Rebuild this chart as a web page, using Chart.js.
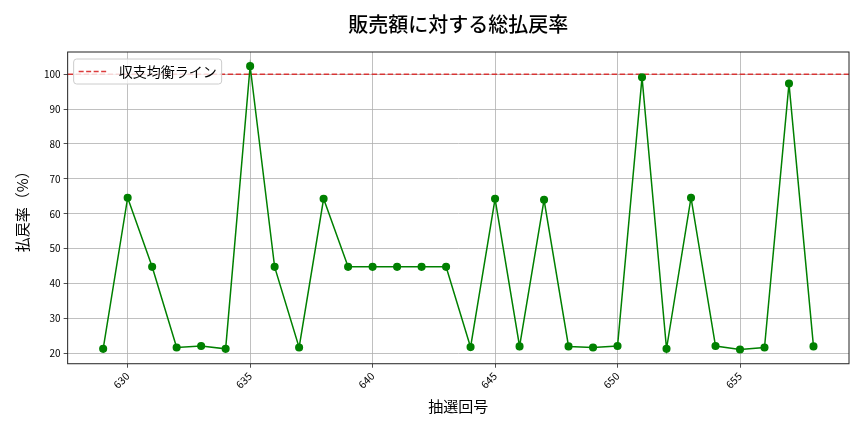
<!DOCTYPE html>
<html><head><meta charset="utf-8">
<script src="https://cdn.jsdelivr.net/npm/chart.js@4.4.1/dist/chart.umd.min.js"></script>
<style>html,body{margin:0;padding:0;background:#fff;}#wrap{width:864px;height:432px;}</style>
</head><body><div id="wrap"><canvas id="c" width="864" height="432"></canvas></div>
<script>
const draws = [629,630,631,632,633,634,635,636,637,638,639,640,641,642,643,644,645,646,647,648,649,650,651,652,653,654,655,656,657,658];
const payoutRate = [21.3,64.6,44.8,21.7,22.1,21.3,102.3,44.8,21.7,64.3,44.8,44.8,44.8,44.8,44.8,21.8,64.3,22.0,64.0,22.0,21.7,22.1,99.1,21.3,64.6,22.1,21.1,21.7,97.3,22.0];
const breakEven = 100;
const xTicks = [630,635,640,645,650,655];
const yTicks = [20,30,40,50,60,70,80,90,100];
const titleText = '販売額に対する総払戻率';
const xLabel = '抽選回号';
const yLabel = '払戻率（%）';
const seriesLabel = '払戻率';
const lineLabel = '収支均衡ライン';

const FONT = '"Noto Sans CJK JP","Noto Sans",sans-serif';
const xMinD = Math.min(...draws), xMaxD = Math.max(...draws);
const xPad = (xMaxD - xMinD) * 0.05;
const yMinD = Math.min(...payoutRate), yMaxD = Math.max(...payoutRate);
const yPad = (yMaxD - yMinD) * 0.05;
const RED = 'rgba(216,38,38,0.9)';

const legendPlugin = {
  id: 'insideLegend',
  afterDraw(chart) {
    const ctx = chart.ctx, a = chart.chartArea;
    const x0 = a.left + 6, y0 = a.top + 7, w = 148, h = 25;
    ctx.save();
    ctx.fillStyle = 'rgba(255,255,255,0.8)';
    ctx.strokeStyle = '#cccccc';
    ctx.lineWidth = 1;
    ctx.beginPath();
    if (ctx.roundRect) ctx.roundRect(x0, y0, w, h, 3); else ctx.rect(x0, y0, w, h);
    ctx.fill(); ctx.stroke();
    ctx.strokeStyle = RED; ctx.lineWidth = 1.5; ctx.setLineDash([5, 2.5]);
    ctx.beginPath(); ctx.moveTo(x0 + 5, y0 + h / 2); ctx.lineTo(x0 + 33, y0 + h / 2); ctx.stroke();
    ctx.setLineDash([]);
    ctx.fillStyle = '#000'; ctx.font = '14px ' + FONT; ctx.textBaseline = 'middle';
    ctx.fillText(chart.data.datasets[1].label, x0 + 45, y0 + h / 2 + 0.5);
    ctx.restore();
  }
};

const frame = {
  id: 'frame',
  afterDraw(chart) {
    const ctx = chart.ctx, a = chart.chartArea;
    ctx.save(); ctx.strokeStyle = '#222'; ctx.lineWidth = 1;
    ctx.strokeRect(a.left, a.top, a.right - a.left, a.bottom - a.top);
    ctx.fillStyle = '#000'; ctx.font = '500 20px ' + FONT;
    ctx.textAlign = 'center'; ctx.textBaseline = 'middle';
    ctx.fillText(titleText, (a.left + a.right) / 2, 24);
    ctx.restore();
  }
};

new Chart(document.getElementById('c'), {
  type: 'line',
  data: {
    datasets: [
      {
        label: seriesLabel,
        data: draws.map((d, i) => ({x: d, y: payoutRate[i]})),
        borderColor: '#008000', backgroundColor: '#008000',
        borderWidth: 1.5, pointRadius: 3.3, pointHoverRadius: 3.3,
        pointBackgroundColor: '#008000', pointBorderColor: '#008000', tension: 0, order: 1
      },
      {
        label: lineLabel,
        data: [{x: xMinD - xPad, y: breakEven}, {x: xMaxD + xPad, y: breakEven}],
        borderColor: RED, borderWidth: 1.5, borderDash: [5.5, 2.5], pointRadius: 0, order: 2
      }
    ]
  },
  options: {
    responsive: false, animation: false, devicePixelRatio: 1,
    layout: {padding: {left: 13, right: 15, top: 52, bottom: 13}},
    plugins: {
      legend: {display: false}, tooltip: {enabled: false},
      title: {display: false}
    },
    scales: {
      x: {
        type: 'linear', min: xMinD - xPad, max: xMaxD + xPad,
        afterBuildTicks: s => { s.ticks = xTicks.map(v => ({value: v})); },
        ticks: {maxRotation: 45, minRotation: 45, color: '#000', font: {family: FONT, size: 10.5}, padding: 2,
          callback: v => String(v)},
        grid: {color: '#b0b0b0', lineWidth: 0.8, drawTicks: true, tickLength: 4, tickColor: '#222'},
        border: {display: false},
        title: {display: true, text: xLabel, color: '#000', font: {family: FONT, size: 15}, padding: {top: 4}}
      },
      y: {
        min: yMinD - yPad, max: yMaxD + yPad,
        afterBuildTicks: s => { s.ticks = yTicks.map(v => ({value: v})); },
        ticks: {color: '#000', font: {family: FONT, size: 10}, padding: 3},
        grid: {color: '#b0b0b0', lineWidth: 0.8, tickLength: 4, tickColor: '#222'},
        border: {display: false},
        title: {display: true, text: yLabel, color: '#000', font: {family: FONT, size: 15}, padding: {top: 0, bottom: 10}}
      }
    }
  },
  plugins: [frame, legendPlugin]
});
</script></body></html>
